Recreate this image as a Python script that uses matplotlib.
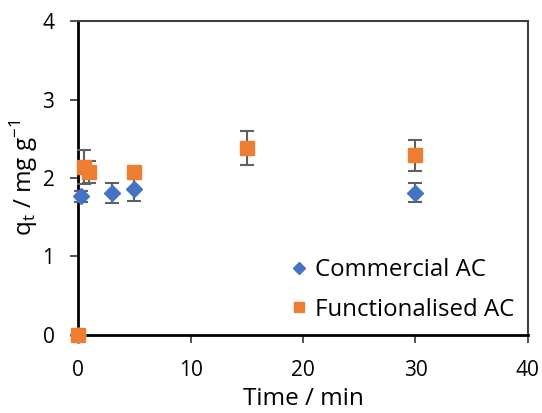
import matplotlib.pyplot as plt
from matplotlib.lines import Line2D

# Data
time_comm = [0, 0.25, 3, 5, 30]
qt_comm = [0, 1.77, 1.81, 1.86, 1.81]
err_comm = [0, 0.07, 0.13, 0.15, 0.12]

time_func = [0, 0.5, 1, 5, 15, 30]
qt_func = [0, 2.14, 2.08, 2.08, 2.38, 2.29]
err_func = [0, 0.22, 0.14, 0.04, 0.22, 0.2]

plt.rcParams['font.family'] = ['Open Sans', 'DejaVu Sans']

fig = plt.figure(figsize=(5.42, 4.13), dpi=100)
ax = fig.add_axes([0.144, 0.189, 0.830, 0.760])

ax.errorbar(time_comm, qt_comm, yerr=err_comm, fmt='D', color='#4472C4',
            markersize=8.5, ecolor='#606060', elinewidth=1.5, capsize=5,
            capthick=1.5, zorder=3)
ax.errorbar(time_func, qt_func, yerr=err_func, fmt='s', color='#ED7D31',
            markersize=9.5, ecolor='#606060', elinewidth=1.5, capsize=5,
            capthick=1.5, zorder=4)

ax.set_xlim(0, 40)
ax.set_ylim(0, 4)
ax.set_xticks([0, 10, 20, 30, 40])
ax.set_yticks([0, 1, 2, 3, 4])
ax.set_xlabel('Time / min', fontsize=17.5)
ax.set_ylabel('q$_\\mathregular{t}$ / mg g$^\\mathregular{-1}$', fontsize=17.5)
ax.tick_params(labelsize=15, length=6, width=1.2, color='#333333')
ax.tick_params(axis='y', pad=11)
ax.tick_params(axis='x', pad=12)
ax.xaxis.set_label_coords(0.5, -0.165)
ax.yaxis.set_label_coords(-0.085, 0.5)

for s in ['left', 'bottom']:
    ax.spines[s].set_linewidth(2)
    ax.spines[s].set_color('black')
for s in ['top', 'right']:
    ax.spines[s].set_linewidth(1.5)
    ax.spines[s].set_color('#404040')

for c in ax.collections + ax.lines:
    c.set_clip_on(False)

handles = [
    Line2D([], [], ls='none', marker='D', color='#4472C4', markersize=6),
    Line2D([], [], ls='none', marker='s', color='#ED7D31', markersize=7),
]
ax.legend(handles, ['Commercial AC', 'Functionalised AC'], loc='lower right',
          frameon=False, fontsize=17.3, handletextpad=0.1, labelspacing=0.65,
          borderaxespad=0.15, handlelength=1.2)

fig.savefig('out.png', dpi=100)
